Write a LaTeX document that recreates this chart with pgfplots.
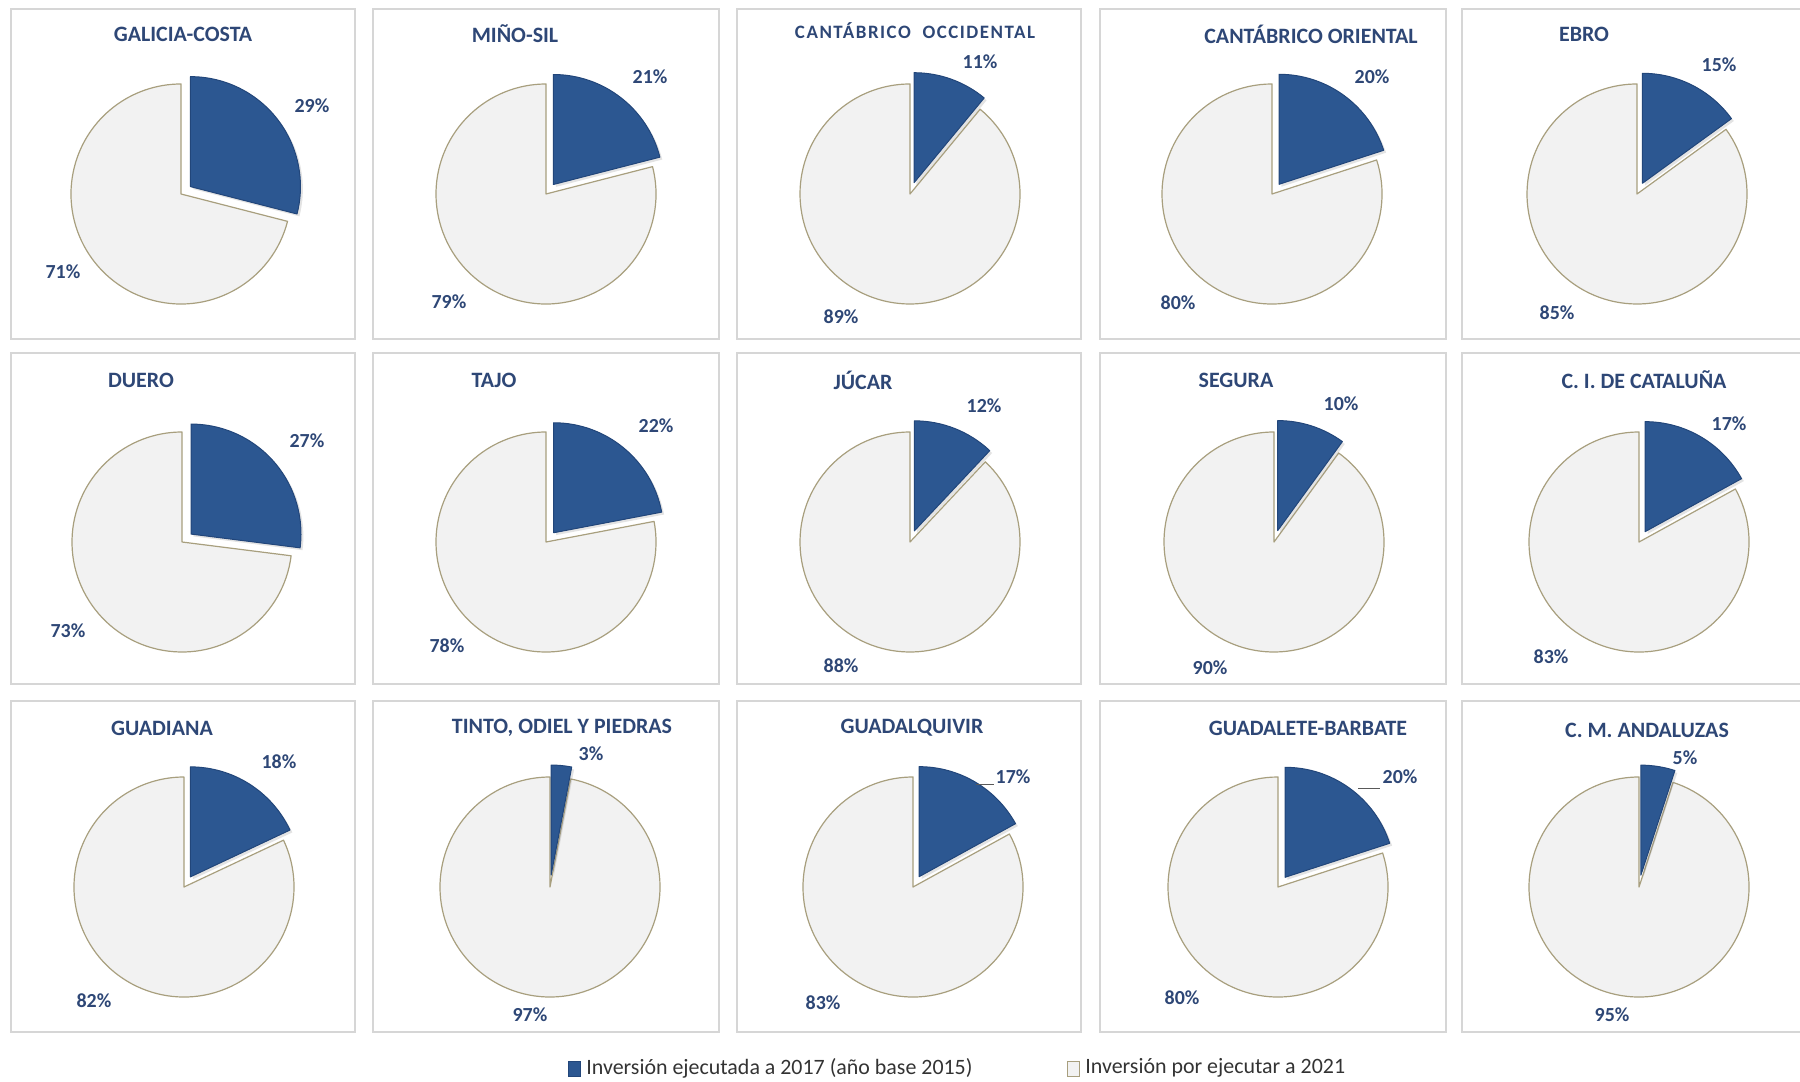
\documentclass[border=0pt]{standalone}
\usepackage{pgfplots}
\pgfplotsset{compat=1.18}
\usetikzlibrary{shadows}
\usepackage{fontspec}
\setmainfont{Carlito}
\definecolor{pblue}{HTML}{2C5791}
\definecolor{pblueD}{HTML}{22467A}
\definecolor{pgray}{HTML}{F2F2F2}
\definecolor{pborder}{HTML}{A89F7E}
\definecolor{ptext}{HTML}{2E4776}
\definecolor{boxc}{HTML}{D6D6D6}
\newcommand{\R}{55bp}
\newcommand{\E}{6bp}
% #1 cx, #2 cy (pixels, y down), #3 percentage executed
\newcommand{\pie}[3]{%
  \filldraw[fill=pgray, draw=pborder, line width=0.6bp, line join=round]
    (axis cs:#1,#2) -- ++({90-3.6*#3}:\R) arc[start angle={90-3.6*#3}, end angle=-270, radius=\R] -- cycle;
  \filldraw[fill=pblue, draw=pblueD, line width=0.5bp, line join=round,
    drop shadow={opacity=0.22, shadow xshift=1.2bp, shadow yshift=-1.2bp}]
    (axis cs:#1,#2) ++({90-1.8*#3}:\E) -- ++(90:\R) arc[start angle=90, end angle={90-3.6*#3}, radius=\R] -- cycle;
}
\newcommand{\ttl}[4][11]{\node[font=\bfseries\fontsize{#1}{#1}\selectfont, text=ptext] at (axis cs:#2,#3) {#4};}
\newcommand{\lbl}[3]{\node[font=\bfseries\fontsize{10}{10}\selectfont, text=ptext] at (axis cs:#1,#2) {#3\%};}
\newcommand{\boxrow}[2]{%
  \draw[boxc, line width=0.75bp] (axis cs:11,#1) rectangle (axis cs:355,#2);
  \draw[boxc, line width=0.75bp] (axis cs:373,#1) rectangle (axis cs:719,#2);
  \draw[boxc, line width=0.75bp] (axis cs:737,#1) rectangle (axis cs:1081,#2);
  \draw[boxc, line width=0.75bp] (axis cs:1100,#1) rectangle (axis cs:1446,#2);
  \draw[boxc, line width=0.75bp] (axis cs:1800,#1) -- (axis cs:1462,#1) -- (axis cs:1462,#2) -- (axis cs:1800,#2);
}
\begin{document}
\begin{tikzpicture}
\begin{axis}[
  x=0.5bp, y=0.5bp, y dir=reverse,
  xmin=0, xmax=1800, ymin=0, ymax=1082,
  scale only axis, hide axis, clip=false,
]
\coordinate (TL) at (axis cs:0,0);
\coordinate (BR) at (axis cs:1800,1082);
% boxes
\boxrow{9}{339}
\boxrow{353}{684}
\boxrow{701}{1032}
% row 1
\pie{181}{194}{29} \ttl{183}{34}{GALICIA-COSTA} \lbl{312}{106}{29} \lbl{63}{272}{71}
\pie{546}{194}{21} \ttl{515}{34}{MIÑO-SIL} \lbl{650}{77}{21} \lbl{449}{302}{79}
\pie{910}{194}{11} \node[font=\bfseries\fontsize{9.5}{9.5}\selectfont\addfontfeatures{LetterSpace=8}, text=ptext] at (axis cs:915,31) {CANTÁBRICO\ \ OCCIDENTAL}; \lbl{980}{62}{11} \lbl{841}{317}{89}
\pie{1272}{194}{20} \ttl{1311}{34}{CANTÁBRICO ORIENTAL} \lbl{1372}{77}{20} \lbl{1178}{303}{80}
\pie{1637}{194}{15} \ttl{1584}{34}{EBRO} \lbl{1719}{65}{15} \lbl{1557}{313}{85}
% row 2
\pie{182}{542}{27} \ttl{141}{380}{DUERO} \lbl{307}{441}{27} \lbl{68}{631}{73}
\pie{546}{542}{22} \ttl{494}{380}{TAJO} \lbl{656}{426}{22} \lbl{447}{646}{78}
\pie{910}{542}{12} \ttl{863}{380}{JÚCAR} \lbl{984}{406}{12} \lbl{841}{666}{88}
\pie{1274}{542}{10} \ttl{1236}{380}{SEGURA} \lbl{1341}{404}{10} \lbl{1210}{668}{90}
\pie{1639}{542}{17} \ttl{1644}{380}{C. I. DE CATALUÑA} \lbl{1729}{424}{17} \lbl{1551}{657}{83}
% row 3
\pie{184}{887}{18} \ttl{162}{728}{GUADIANA} \lbl{279}{762}{18} \lbl{94}{1001}{82}
\pie{550}{887}{3} \ttl{562}{728}{TINTO, ODIEL Y PIEDRAS} \lbl{591}{754}{3} \lbl{530}{1015}{97}
\pie{913}{887}{17} \ttl{912}{728}{GUADALQUIVIR} \lbl{1013}{777}{17} \lbl{823}{1003}{83}
\pie{1278}{887}{20} \ttl{1308}{728}{GUADALETE-BARBATE} \lbl{1400}{777}{20} \lbl{1182}{998}{80}
\pie{1639}{887}{5} \ttl{1647}{730}{C. M. ANDALUZAS} \lbl{1685}{758}{5} \lbl{1612}{1015}{95}
% leader lines
\draw[gray!70!black, line width=0.4bp] (axis cs:976,784) -- (axis cs:994,784);
\draw[gray!70!black, line width=0.4bp] (axis cs:1358,788) -- (axis cs:1380,788);
% legend
\filldraw[fill=pblue, draw=pblueD, line width=0.4bp] (axis cs:568,1061) rectangle (axis cs:580,1076);
\node[anchor=west, font=\fontsize{11}{11}\selectfont, text=black!80, inner sep=0pt] at (axis cs:586,1068) {Inversión ejecutada a 2017 (año base 2015)};
\filldraw[fill=pgray, draw=pborder, line width=0.4bp] (axis cs:1067,1061) rectangle (axis cs:1079,1076);
\node[anchor=west, font=\fontsize{11}{11}\selectfont, text=black!80, inner sep=0pt] at (axis cs:1085,1068) {Inversión por ejecutar a 2021};
\end{axis}
\pgfresetboundingbox
\useasboundingbox (TL) rectangle (BR);
\end{tikzpicture}
\end{document}
